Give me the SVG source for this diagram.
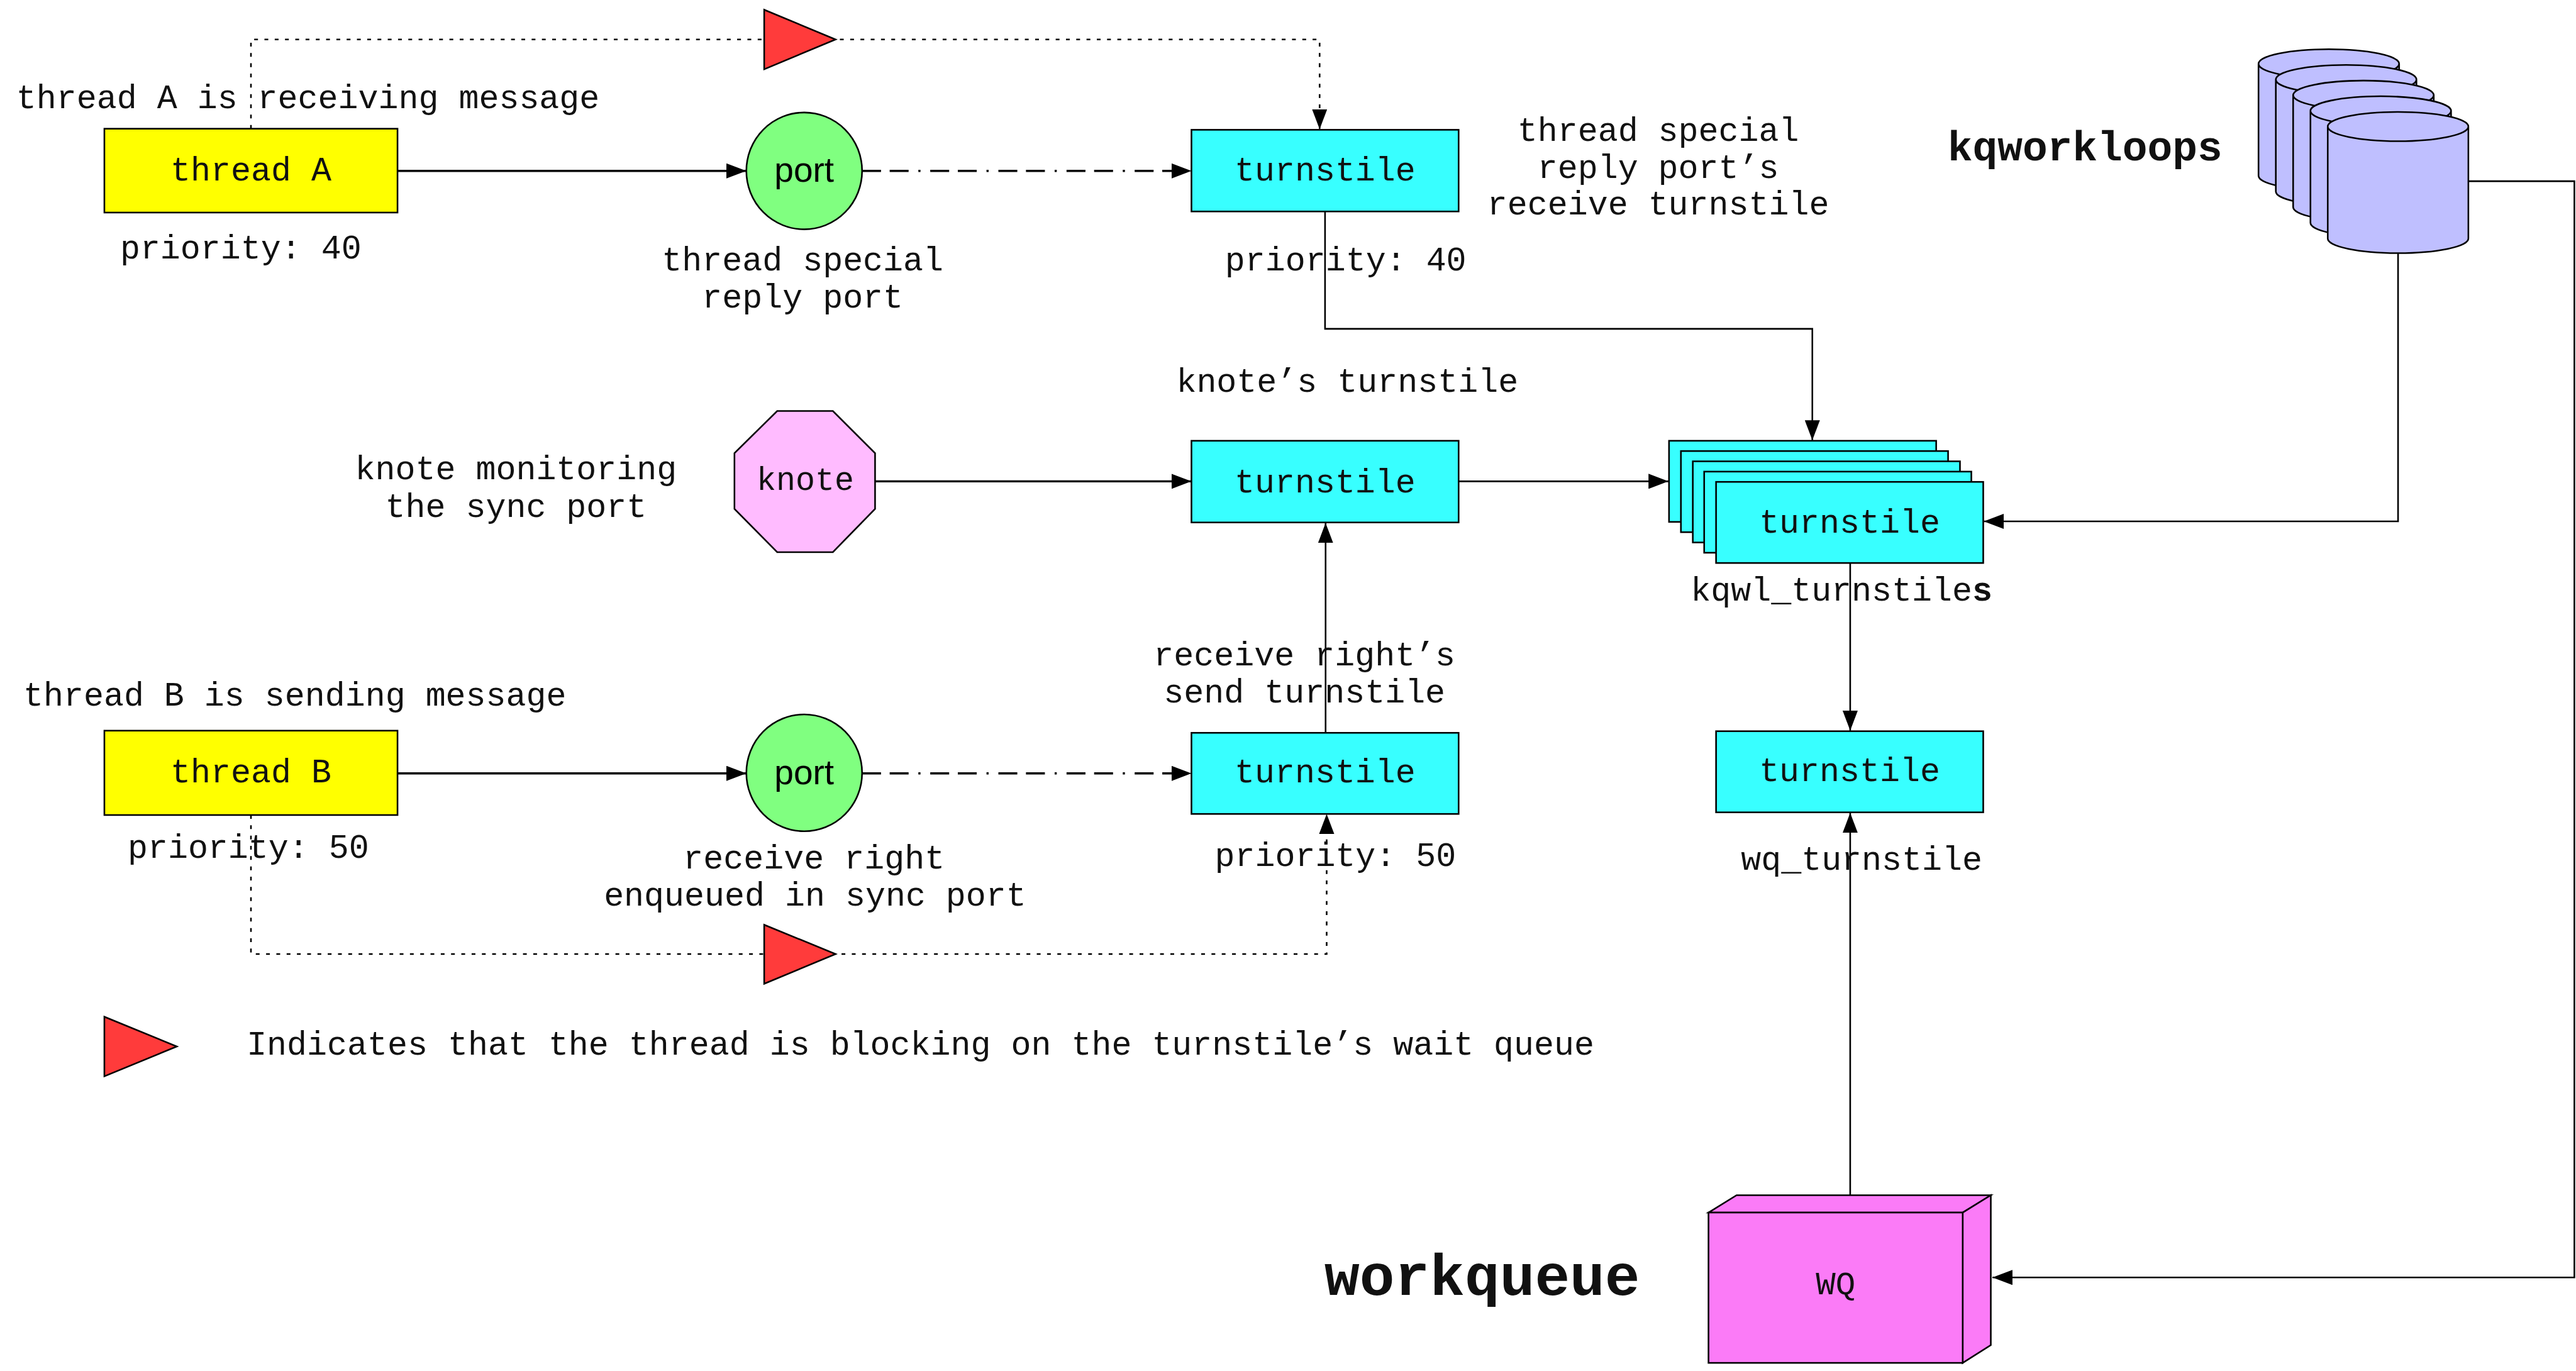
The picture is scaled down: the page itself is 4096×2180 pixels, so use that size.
<svg xmlns="http://www.w3.org/2000/svg" width="4096" height="2180" viewBox="0 0 4096 2180">
  <defs>
    <style>
      .lbl { font-family: "Liberation Mono", "Courier New", monospace; font-size: 62px; fill: #111; }
      .mid { text-anchor: middle; }
      .bold { font-weight: bold; }
      .sans { font-family: "Liberation Sans", Arial, sans-serif; font-size: 64px; fill: #000; text-anchor: middle; }
      .edge { fill: none; stroke: #000; stroke-width: 3; }
      .main { stroke-width: 4; }
      .dashdot { stroke-width: 4; stroke-dasharray: 35 16 35 18 4 18; }
      .dotted { stroke-width: 3; stroke-dasharray: 7 12; }
      .shape { stroke: #000; stroke-width: 3; }
      .thread { fill: #ffff00; }
      .port { fill: #80ff80; }
      .ts { fill: #38ffff; }
      .knote { fill: #ffbbff; }
      .kqwl { fill: #bfbfff; }
      .wq { fill: #fb7bf7; }
      .block { fill: #ff3b3b; stroke: #000; stroke-width: 3; stroke-linejoin: miter; }
    </style>
    <marker id="ah" markerUnits="userSpaceOnUse" viewBox="0 0 38 28" markerWidth="38" markerHeight="28" refX="37" refY="14" orient="auto">
      <path d="M0,0 L37,14 L0,28 z" fill="#000"/>
    </marker>
  </defs>
  <rect x="0" y="0" width="4096" height="2180" fill="#fff"/>
  <g transform="scale(0.85996)">

    <!-- connectors -->
    <g id="connectors">
      <path class="edge main" d="M735,316 H1380" marker-end="url(#ah)"/>
      <path class="edge dashdot" d="M1594,316 H2203" marker-end="url(#ah)"/>
      <path class="edge dotted" d="M464,238 V73 H2440 V239" marker-end="url(#ah)"/>
      <path class="edge" d="M2450,392 V608 H3351 V814" marker-end="url(#ah)"/>
      <path class="edge main" d="M1617,890 H2203" marker-end="url(#ah)"/>
      <path class="edge" d="M2697,890 H3085" marker-end="url(#ah)"/>
      <path class="edge" d="M2451,1355 V967" marker-end="url(#ah)"/>
      <path class="edge main" d="M735,1430 H1380" marker-end="url(#ah)"/>
      <path class="edge dashdot" d="M1594,1430 H2203" marker-end="url(#ah)"/>
      <path class="edge dotted" d="M464,1507 V1764 H2453 V1505" marker-end="url(#ah)"/>
      <path class="edge" d="M3421,1041 V1351" marker-end="url(#ah)"/>
      <path class="edge" d="M3421,2210 V1503" marker-end="url(#ah)"/>
      <path class="edge" d="M4434,468 V964 H3668" marker-end="url(#ah)"/>
      <path class="edge" d="M4564,335 H4760 V2362 H3684" marker-end="url(#ah)"/>
    </g>

    <!-- blocking indicators sitting on the wait edges, plus the legend glyph -->
    <g id="blocking-markers">
      <polygon class="block" points="1413,18 1545,73 1413,128"/>
      <polygon class="block" points="1413,1710 1545,1764 1413,1819"/>
    </g>

    <g id="thread-a">
      <rect class="shape thread" x="193" y="238" width="542" height="155"/>
      <text class="lbl mid" x="464" y="334">thread A</text>
    </g>
    <text class="lbl" x="30" y="200">thread A is receiving message</text>
    <text class="lbl" x="222" y="478">priority: 40</text>

    <g id="port-a">
      <ellipse class="shape port" cx="1487" cy="316" rx="107" ry="108"/>
      <text class="sans" x="1487" y="336">port</text>
    </g>
    <text class="lbl mid" x="1484" y="500">thread special</text>
    <text class="lbl mid" x="1484" y="569">reply port</text>

    <g id="turnstile-a">
      <rect class="shape ts" x="2203" y="240" width="494" height="151"/>
      <text class="lbl mid" x="2450" y="334">turnstile</text>
    </g>
    <text class="lbl" x="2265" y="500">priority: 40</text>
    <text class="lbl mid" x="3066" y="261">thread special</text>
    <text class="lbl mid" x="3066" y="329">reply port’s</text>
    <text class="lbl mid" x="3066" y="397">receive turnstile</text>

    <g id="knote">
      <polygon class="shape knote" points="1437,760 1540,760 1618,838 1618,941 1540,1021 1437,1021 1358,941 1358,838"/>
      <text class="lbl mid" x="1489" y="906" style="font-size:60px">knote</text>
    </g>
    <text class="lbl mid" x="954" y="886">knote monitoring</text>
    <text class="lbl mid" x="954" y="956">the sync port</text>

    <g id="turnstile-knote">
      <rect class="shape ts" x="2203" y="815" width="494" height="151"/>
      <text class="lbl mid" x="2450" y="910">turnstile</text>
    </g>
    <text class="lbl" x="2175" y="724">knote’s turnstile</text>

    <g id="kqwl-turnstiles">
      <rect class="shape ts" x="3086" y="815" width="494" height="150"/>
      <rect class="shape ts" x="3108" y="834" width="494" height="150"/>
      <rect class="shape ts" x="3130" y="853" width="494" height="150"/>
      <rect class="shape ts" x="3151" y="872" width="494" height="150"/>
      <rect class="shape ts" x="3173" y="891" width="494" height="150"/>
      <text class="lbl mid" x="3420" y="985">turnstile</text>
    </g>
    <text class="lbl" x="3126" y="1111">kqwl_turnstile<tspan class="bold">s</tspan></text>

    <g id="kqworkloops">
      <g class="shape kqwl">
        <path d="M4176,118 V325 A130,27 0 0 0 4436,325 V118 A130,27 0 0 0 4176,118 Z M4176,118 A130,27 0 0 0 4436,118"/>
        <path d="M4208,147 V354 A130,27 0 0 0 4468,354 V147 A130,27 0 0 0 4208,147 Z M4208,147 A130,27 0 0 0 4468,147"/>
        <path d="M4240,176 V383 A130,27 0 0 0 4500,383 V176 A130,27 0 0 0 4240,176 Z M4240,176 A130,27 0 0 0 4500,176"/>
        <path d="M4272,205 V412 A130,27 0 0 0 4532,412 V205 A130,27 0 0 0 4272,205 Z M4272,205 A130,27 0 0 0 4532,205"/>
        <path d="M4304,234 V441 A130,27 0 0 0 4564,441 V234 A130,27 0 0 0 4304,234 Z M4304,234 A130,27 0 0 0 4564,234"/>
      </g>
    </g>
    <text class="lbl bold" x="3601" y="296" style="font-size:77px">kqworkloops</text>

    <g id="thread-b">
      <rect class="shape thread" x="193" y="1351" width="542" height="156"/>
      <text class="lbl mid" x="464" y="1447">thread B</text>
    </g>
    <text class="lbl" x="43" y="1305">thread B is sending message</text>
    <text class="lbl" x="236" y="1586">priority: 50</text>

    <g id="port-b">
      <ellipse class="shape port" cx="1487" cy="1429" rx="107" ry="108"/>
      <text class="sans" x="1487" y="1450">port</text>
    </g>
    <text class="lbl mid" x="1505" y="1606">receive right</text>
    <text class="lbl mid" x="1507" y="1675">enqueued in sync port</text>

    <g id="turnstile-b">
      <rect class="shape ts" x="2203" y="1355" width="494" height="150"/>
      <text class="lbl mid" x="2450" y="1447">turnstile</text>
    </g>
    <text class="lbl mid" x="2412" y="1230">receive right’s</text>
    <text class="lbl mid" x="2412" y="1299">send turnstile</text>
    <text class="lbl" x="2246" y="1601">priority: 50</text>

    <g id="wq-turnstile">
      <rect class="shape ts" x="3173" y="1352" width="494" height="150"/>
      <text class="lbl mid" x="3420" y="1444">turnstile</text>
    </g>
    <text class="lbl" x="3219" y="1608">wq_turnstile</text>

    <g id="workqueue">
      <polygon class="shape wq" points="3159,2242 3211,2210 3681,2210 3629,2242"/>
      <polygon class="shape wq" points="3629,2242 3681,2210 3681,2487 3629,2520"/>
      <rect class="shape wq" x="3159" y="2242" width="470" height="278"/>
      <text class="lbl mid" x="3394" y="2393" style="font-size:61px">WQ</text>
    </g>
    <text class="lbl bold" x="2449" y="2394" style="font-size:108px">workqueue</text>

    <g id="legend">
      <polygon class="block" points="193,1880 327,1935 193,1990"/>
      <text class="lbl" x="456" y="1950">Indicates that the thread is blocking on the turnstile’s wait queue</text>
    </g>
  </g>
</svg>
